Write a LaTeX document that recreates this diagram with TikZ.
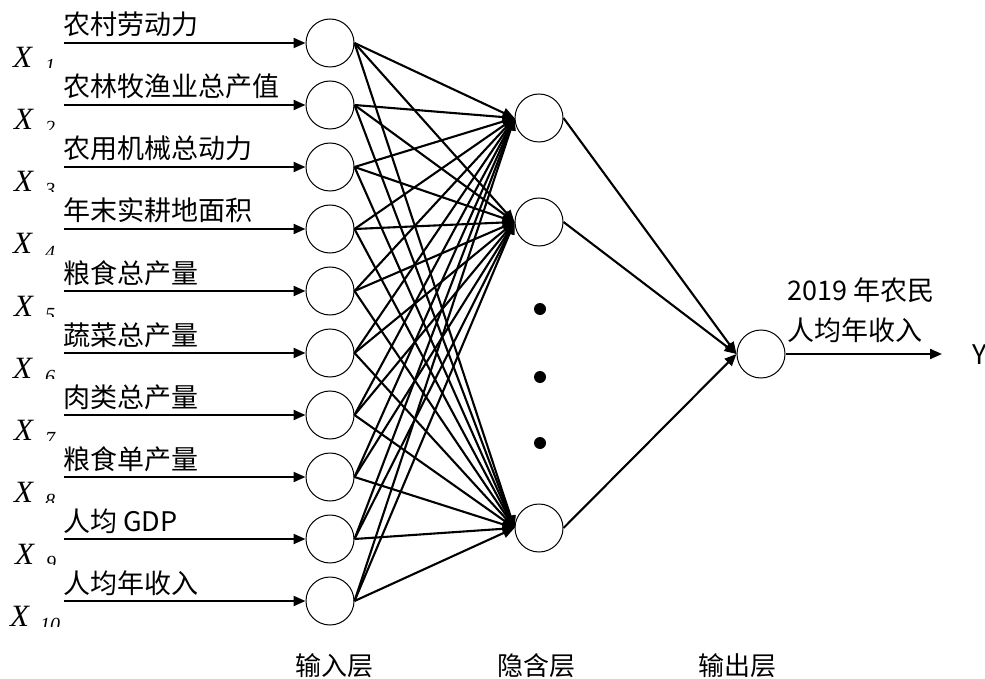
\documentclass[tikz,border=0pt]{standalone}
\usepackage{fontspec}
\setmainfont{Noto Sans CJK SC}
\newfontfamily\xfont{Liberation Serif}
\usetikzlibrary{arrows.meta}
\begin{document}
\begin{tikzpicture}[x=1pt,y=-1pt,
  neuron/.style={circle,draw,line width=1pt,minimum size=48pt,inner sep=0pt},
  conn/.style={line width=2.1pt,-{Triangle[length=12pt,width=10pt]}},
  lbl/.style={font=\fontsize{27}{30}\selectfont,inner sep=0pt,anchor=base west},
  layerlbl/.style={font=\fontsize{26}{30}\selectfont,inner sep=0pt,anchor=base},
  xl/.style={font=\xfont\itshape\fontsize{31}{34}\selectfont,inner sep=0pt,anchor=base west},
  xs/.style={font=\xfont\itshape\fontsize{20}{22}\selectfont,inner sep=0pt,anchor=base west},
  hdot/.style={fill=black}]
\useasboundingbox (0,0) rectangle (985,679);
% input layer
\foreach \i/\t/\xa/\xb in {1/农村劳动力/13/45,2/农林牧渔业总产值/14/45,3/农用机械总动力/14/45,4/年末实耕地面积/13/45,5/粮食总产量/14/45,6/蔬菜总产量/13/45,7/肉类总产量/14/45,8/粮食单产量/14/45,9/人均 GDP/15/46,10/人均年收入/10/40}{
  \pgfmathsetmacro\yy{43+62*(\i-1)}
  \node[neuron] (in\i) at (330,\yy) {};
  \coordinate (s\i) at (64,\yy);
  \draw[conn] (s\i) -- (in\i);
  \node[lbl] (t\i) at (63,\yy-8) {\t};
  \begin{scope}
    \clip (0,\yy-30) rectangle (62,\yy+25);
    \node[xl] (x\i) at (\xa,\yy+25) {X};
    \node[xs] (xs\i) at (\xb,\yy+30) {\i};
  \end{scope}
}
% hidden layer
\node[neuron] (h1) at (539,118) {};
\node[neuron] (h2) at (539,222) {};
\node[neuron] (h3) at (539,528) {};
\fill[hdot] (540,309) circle (6pt);
\fill[hdot] (540,377) circle (6pt);
\fill[hdot] (540,443) circle (6pt);
% output layer
\node[neuron] (out) at (761,354) {};
\foreach \i in {1,...,10}{
  \foreach \j in {1,2,3}{
    \draw[conn] (in\i.east) -- (h\j.west);
  }
}
\foreach \j in {1,2,3}{
  \draw[conn] (h\j.east) -- (out.west);
}
\coordinate (yend) at (942,354);
\draw[conn] (out.east) -- (yend);
\node[lbl] (ylab) at (972,364) {Y};
\node[lbl] (o1) at (787,300) {2019 年农民};
\node[lbl] (o2) at (787,340) {人均年收入};
% layer labels
\node[layerlbl] (l1) at (334,675) {输入层};
\node[layerlbl] (l2) at (536,675) {隐含层};
\node[layerlbl] (l3) at (737,675) {输出层};
\end{tikzpicture}
\end{document}
